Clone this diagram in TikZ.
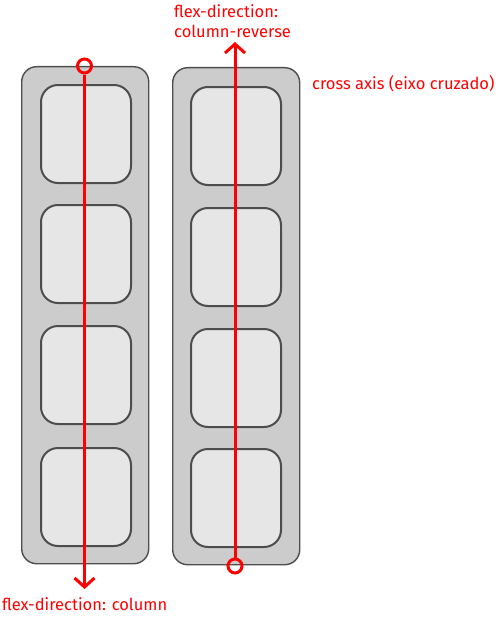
\documentclass[tikz,border=0pt]{standalone}
\usepackage{fontspec}
\setmainfont{Fira Sans}
\usetikzlibrary{arrows.meta}
\definecolor{axisred}{HTML}{FF0000}
\definecolor{contfill}{HTML}{CCCCCC}
\definecolor{itemfill}{HTML}{E6E6E6}
\definecolor{edge}{HTML}{4D4D4D}
\tikzset{
  container/.style={draw=edge, line width=1.4pt, fill=contfill, rounded corners=15pt, minimum width=127pt, minimum height=497pt, inner sep=0pt, anchor=north west},
  item/.style={draw=edge, line width=2pt, fill=itemfill, rounded corners=17pt, minimum width=90pt, minimum height=98pt, inner sep=0pt, anchor=north west},
  axis/.style={draw=axisred, line width=3pt, -{Straight Barb[length=9pt,width=20pt,line width=3pt]}},
  origin/.style={circle, draw=axisred, line width=3pt, minimum size=14pt, inner sep=0pt},
  lbl/.style={text=axisred, font=\fontsize{16.5}{20}\selectfont, inner sep=0pt, align=left}
}
\begin{document}
\begin{tikzpicture}[x=1pt,y=-1pt]
\useasboundingbox (0,0) rectangle (502,618);
% containers
\node[container] (L) at (21,66) {};
\node[container] (R) at (172,67) {};
% items left
\node[item] (l1) at (40,84) {};
\node[item] (l2) at (40,204) {};
\node[item] (l3) at (40,325) {};
\node[item] (l4) at (40,447) {};
% items right
\node[item] (r1) at (190,86) {};
\node[item] (r2) at (190,207) {};
\node[item] (r3) at (190,328) {};
\node[item] (r4) at (190,448) {};
% axes
\node[origin] (c1) at (84.5,66) {};
\coordinate (e1) at (84.5,589);
\draw[axis] (c1.south) -- (e1);
\node[origin] (c2) at (235,566) {};
\coordinate (e2) at (235,42);
\draw[axis] (c2.north) -- (e2);
% labels
\node[lbl, anchor=west] (t1) at (174,21) {flex-direction:\\column-reverse};
\node[lbl, anchor=west] (t2) at (2,604) {flex-direction: column};
\node[lbl, anchor=west] (t3) at (312,84) {cross axis (eixo cruzado)};
\end{tikzpicture}
\end{document}
